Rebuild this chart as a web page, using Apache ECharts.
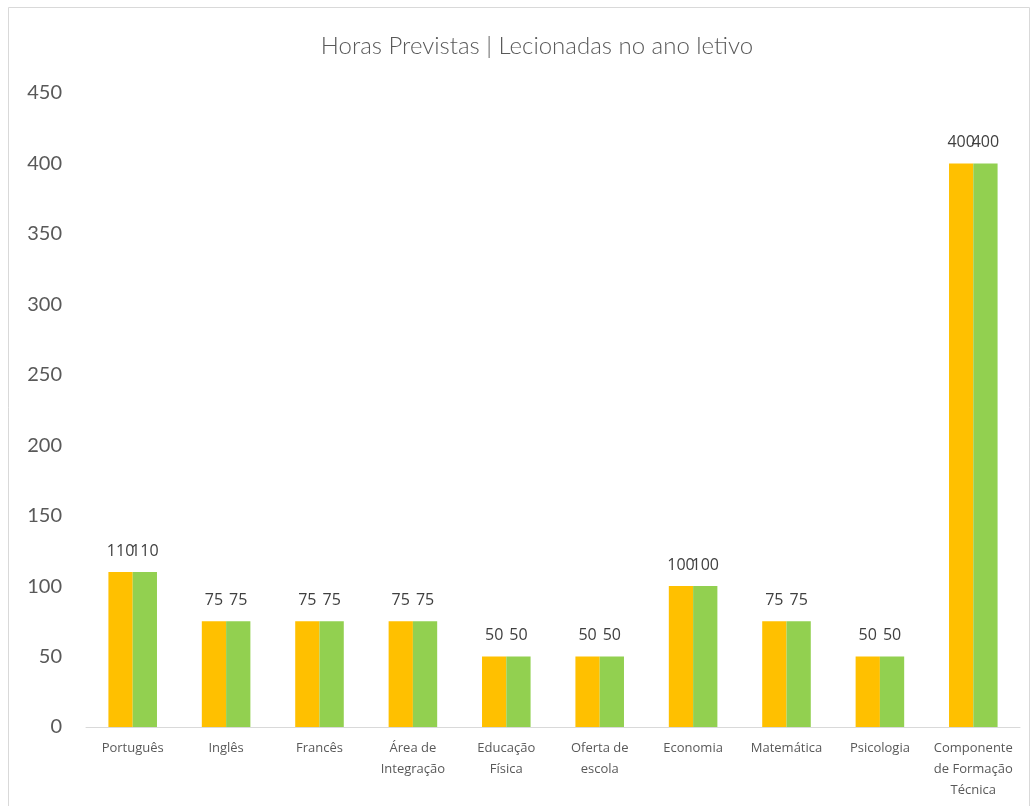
<!DOCTYPE html>
<html>
<head>
<meta charset="utf-8">
<script src="https://cdn.jsdelivr.net/npm/echarts@6/dist/echarts.min.js"></script>
<style>
  html, body { margin: 0; padding: 0; background: #fff; }
  #main { width: 1035px; height: 806px; }
</style>
</head>
<body>
<div id="main"></div>
<script>
// categorias (eixo x)
var categories = ['Português', 'Inglês', 'Francês', 'Área de\nIntegração', 'Educação\nFísica',
  'Oferta de\nescola', 'Economia', 'Matemática', 'Psicologia', 'Componente\nde Formação\nTécnica'];
var previstas = [110, 75, 75, 75, 50, 50, 100, 75, 50, 400];   // horas previstas
var lecionadas = [110, 75, 75, 75, 50, 50, 100, 75, 50, 400];  // horas lecionadas
var yTicks = { min: 0, max: 450, interval: 50 };

var chart = echarts.init(document.getElementById('main'), null, { renderer: 'canvas' });

var labelStyle = {
  show: true,
  position: 'top',
  distance: 13,
  color: '#404040',
  fontSize: 16,
  fontFamily: 'Open Sans'
};

var option = {
  animation: false,
  backgroundColor: '#fff',
  title: {
    text: 'Horas Previstas | Lecionadas no ano letivo',
    left: 532,
    top: 29,
    textAlign: 'center',
    textStyle: {
      color: '#595959',
      fontSize: 24,
      fontWeight: 300,
      fontFamily: 'Lato'
    }
  },
  graphic: [{
    type: 'rect',
    shape: { x: 8.5, y: 7.5, width: 1021, height: 810 },
    style: { fill: 'none', stroke: '#d9d9d9', lineWidth: 1 },
    silent: true
  }],
  grid: { left: 86, right: 15, top: 93, bottom: 79, containLabel: false },
  xAxis: {
    type: 'category',
    data: categories,
    axisLine: { show: true, lineStyle: { color: '#d9d9d9', width: 1 } },
    axisTick: { show: false },
    axisLabel: {
      interval: 0,
      margin: 11,
      color: '#595959',
      fontSize: 13,
      lineHeight: 21,
      fontFamily: 'Open Sans'
    }
  },
  yAxis: {
    type: 'value',
    min: yTicks.min,
    max: yTicks.max,
    interval: yTicks.interval,
    axisLine: { show: false },
    axisTick: { show: false },
    splitLine: { show: false },
    axisLabel: {
      margin: 24,
      color: '#595959',
      fontSize: 20,
      fontFamily: 'Lato'
    }
  },
  series: [{
    name: 'Previstas',
    type: 'bar',
    data: previstas,
    barGap: '0%',
    barCategoryGap: '48%',
    itemStyle: { color: '#FFC000' },
    label: labelStyle
  }, {
    name: 'Lecionadas',
    type: 'bar',
    data: lecionadas,
    barGap: '0%',
    barCategoryGap: '48%',
    itemStyle: { color: '#92D050' },
    label: labelStyle
  }]
};

chart.setOption(option);
</script>
</body>
</html>
